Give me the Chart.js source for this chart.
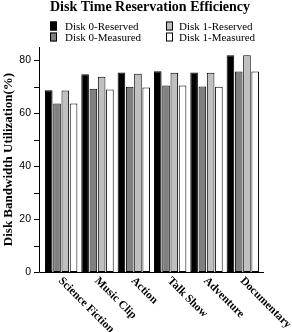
<!DOCTYPE html>
<html>
<head>
<meta charset="utf-8">
<script src="https://cdn.jsdelivr.net/npm/chart.js@4/dist/chart.umd.min.js"></script>
<style>
  html, body { margin: 0; padding: 0; background: #fff; }
  #wrap { width: 292px; height: 332px; }
</style>
</head>
<body>
<div id="wrap"><canvas id="chart" width="292" height="332"></canvas></div>
<script>
// Data
const chartTitle = 'Disk Time Reservation Efficiency';
const categories = ['Science Fiction', 'Music Clip', 'Action', 'Talk Show', 'Adventure', 'Documentary'];
const disk0Reserved = [68.7, 74.7, 75.4, 75.8, 75.4, 81.9];
const disk0Measured = [63.7, 69.2, 70.0, 70.5, 70.1, 75.7];
const disk1Reserved = [68.6, 73.8, 74.9, 75.3, 75.3, 81.9];
const disk1Measured = [63.7, 68.9, 69.7, 70.5, 70.0, 75.7];
const yTickValues = [0, 10, 20, 30, 40, 50, 60, 70, 80];
const yTickLabels = ['0', '', '20', '', '40', '', '60', '', '80'];

const serif = '"Liberation Serif", "Times New Roman", serif';
const sans = '"Liberation Sans", Arial, sans-serif';

// title, axis lines, tick marks, slanted category labels and the 2x2 legend
const decorations = {
    id: 'decorations',
    afterDraw: function(chart) {
        const ctx = chart.ctx;
        const area = chart.chartArea;
        const x = chart.scales.x;
        const y = chart.scales.y;
        const axisX = area.left - 4;

        ctx.save();
        ctx.fillStyle = '#000';
        ctx.font = 'bold 14px ' + serif;
        ctx.textAlign = 'center';
        ctx.textBaseline = 'middle';
        ctx.fillText(chartTitle, 150, 7);

        ctx.strokeStyle = '#000';
        ctx.lineWidth = 1;
        ctx.beginPath();
        ctx.moveTo(axisX + 0.5, area.top);
        ctx.lineTo(axisX + 0.5, area.bottom + 0.5);
        ctx.lineTo(area.right + 3, area.bottom + 0.5);
        yTickValues.forEach(function(v) {
            const py = Math.round(y.getPixelForValue(v)) + 0.5;
            ctx.moveTo(axisX - 5, py);
            ctx.lineTo(axisX, py);
        });
        ctx.stroke();

        // category labels, slanted down to the right
        ctx.font = 'bold 11.5px ' + serif;
        ctx.textAlign = 'left';
        ctx.textBaseline = 'top';
        chart.data.labels.forEach(function(label, i) {
            const px = x.getPixelForTick(i);
            ctx.save();
            ctx.translate(px + 3, area.bottom + 3);
            ctx.rotate(Math.PI / 4);
            ctx.fillText(label, 0, 0);
            ctx.restore();
        });

        // legend, two columns: Disk 0 left, Disk 1 right
        const order = [0, 2, 1, 3];
        const boxX = [50, 166];
        const textX = [65, 179];
        const rowY = [21.5, 32.5];
        ctx.font = '11px ' + serif;
        ctx.textAlign = 'left';
        ctx.textBaseline = 'alphabetic';
        order.forEach(function(di, k) {
            const ds = chart.data.datasets[di];
            const col = k % 2;
            const by = rowY[Math.floor(k / 2)];
            ctx.fillStyle = ds.backgroundColor;
            ctx.fillRect(boxX[col], by, 7, 9);
            ctx.strokeStyle = '#000';
            ctx.strokeRect(boxX[col] + 0.5, by + 0.5, 6, 8);
            ctx.fillStyle = '#000';
            ctx.fillText(ds.label, textX[col], by + 8);
        });
        ctx.restore();
    }
};

const barStyle = { borderColor: '#000', borderWidth: 1, borderSkipped: false, categoryPercentage: 0.91, barPercentage: 0.92 };

new Chart(document.getElementById('chart').getContext('2d'), {
    type: 'bar',
    data: {
        labels: categories,
        datasets: [
            Object.assign({ label: 'Disk 0-Reserved', data: disk0Reserved, backgroundColor: '#000000' }, barStyle),
            Object.assign({ label: 'Disk 0-Measured', data: disk0Measured, backgroundColor: '#808080' }, barStyle),
            Object.assign({ label: 'Disk 1-Reserved', data: disk1Reserved, backgroundColor: '#c0c0c0' }, barStyle),
            Object.assign({ label: 'Disk 1-Measured', data: disk1Measured, backgroundColor: '#ffffff' }, barStyle)
        ]
    },
    options: {
        responsive: false,
        animation: false,
        devicePixelRatio: 1,
        layout: { padding: { left: 0, right: 31, top: 47, bottom: 0 } },
        plugins: {
            legend: { display: false },
            tooltip: { enabled: false },
            title: { display: false }
        },
        scales: {
            x: {
                grid: { display: false, drawTicks: false },
                border: { display: false },
                ticks: { display: false },
                afterFit: function(scale) { scale.height = 60; }
            },
            y: {
                min: 0,
                max: 85,
                grid: { display: false, drawTicks: false },
                border: { display: false },
                ticks: {
                    stepSize: 10,
                    padding: 12,
                    color: '#000',
                    font: { family: sans, size: 10.5 },
                    callback: function(v) {
                        const i = yTickValues.indexOf(v);
                        return i >= 0 ? yTickLabels[i] : '';
                    }
                },
                title: {
                    display: true,
                    text: 'Disk Bandwidth Utilization(%)',
                    color: '#000',
                    font: { family: serif, size: 13, weight: 'bold', lineHeight: 1.2 },
                    padding: { top: 1, bottom: 0 }
                },
                afterFit: function(scale) { scale.width = 43; }
            }
        }
    },
    plugins: [decorations]
});
</script>
</body>
</html>
